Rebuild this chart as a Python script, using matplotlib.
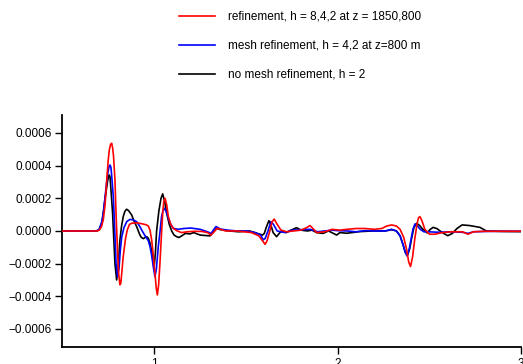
import matplotlib
matplotlib.use("Agg")
import matplotlib.pyplot as plt
from matplotlib.ticker import FuncFormatter

plt.rcParams['font.family'] = ['Liberation Sans', 'DejaVu Sans']

# amplitudes below are in units of 1e-4
SCALE = 1e-4

labels = [
    "refinement, h = 8,4,2 at z = 1850,800",
    "mesh refinement, h = 4,2 at z=800 m",
    "no mesh refinement, h = 2",
]
colors = ["#ff0000", "#0000ff", "#000000"]

red_t = [0.5, 0.69, 0.70, 0.712, 0.722, 0.732, 0.741, 0.749, 0.755, 0.762, 0.768, 0.773,
         0.778, 0.786, 0.792, 0.799, 0.806, 0.813, 0.818,
         0.822, 0.831, 0.843, 0.853, 0.865, 0.877, 0.90, 0.93, 0.955, 0.968, 0.977, 0.986,
         0.995, 1.004, 1.011, 1.017, 1.024, 1.031, 1.039, 1.046, 1.052, 1.059, 1.068, 1.077,
         1.09, 1.104, 1.125, 1.15, 1.18, 1.22, 1.26, 1.29, 1.31, 1.343, 1.39, 1.45, 1.53,
         1.57, 1.59, 1.604, 1.615, 1.63, 1.642, 1.654, 1.665, 1.69, 1.72, 1.76, 1.80, 1.83,
         1.849, 1.865, 1.885, 1.93, 1.97, 2.01, 2.05, 2.10, 2.15, 2.20, 2.24, 2.267, 2.294,
         2.32, 2.34, 2.36, 2.375, 2.387, 2.397, 2.408, 2.42, 2.432, 2.44, 2.448, 2.46, 2.475,
         2.50, 2.53, 2.57, 2.62, 2.68, 2.71, 2.74, 2.8, 2.9, 3.0]
red_amp = [0, 0, 0.05, 0.25, 0.67, 1.6, 3.1, 4.3, 4.95, 5.3, 5.37, 5.1,
           4.6, 3.1, 1.0, -0.96, -2.6, -3.3, -3.2,
           -2.7, -1.57, -0.5, 0.06, 0.4, 0.47, 0.5, 0.45, 0.38, 0.3, 0.05, -0.55,
           -1.5, -2.6, -3.5, -3.92, -3.3, -2.0, -0.3, 1.08, 1.8, 2.0, 1.6, 0.88,
           0.4, 0.16, 0.0, -0.1, -0.05, -0.02, -0.03, -0.1, -0.25, 0.16, 0.0, 0.0, -0.1,
           -0.3, -0.6, -0.82, -0.6, 0.0, 0.55, 0.73, 0.5, 0.06, -0.05, 0.0, 0.05, 0.2,
           0.33, 0.15, -0.1, -0.05, 0.1, 0.05, 0.1, 0.15, 0.15, 0.1, 0.15, 0.3, 0.37,
           0.3, 0.1, -0.4, -1.1, -1.9, -2.18, -1.6, -0.5, 0.4, 0.8, 0.88, 0.6, 0.1,
           -0.2, -0.2, -0.1, -0.05, -0.05, -0.2, -0.05, -0.02, -0.02, -0.02]

blue_t = [0.5, 0.685, 0.70, 0.715, 0.724, 0.732, 0.745, 0.753, 0.759, 0.764, 0.768, 0.777,
          0.785, 0.792, 0.80,
          0.808, 0.815, 0.823, 0.835, 0.85, 0.868, 0.885, 0.904, 0.92, 0.932, 0.945, 0.959,
          0.968, 0.977, 0.986, 0.995, 1.004, 1.012, 1.022, 1.031, 1.04, 1.048, 1.055, 1.065,
          1.077, 1.09, 1.104, 1.13, 1.16, 1.2, 1.25, 1.29, 1.31, 1.325, 1.337, 1.36, 1.40,
          1.45, 1.50, 1.55, 1.58, 1.594, 1.605, 1.62, 1.636, 1.65, 1.67, 1.69, 1.715, 1.75,
          1.80, 1.85, 1.89, 1.93, 1.97, 2.0, 2.05, 2.1, 2.15, 2.2, 2.26, 2.294, 2.32, 2.34,
          2.355, 2.368, 2.378, 2.39, 2.40, 2.41, 2.421, 2.435, 2.45, 2.47, 2.49, 2.55, 2.62,
          2.68, 2.71, 2.74, 2.8, 2.9, 3.0]
blue_amp = [0, 0, 0.1, 0.6, 1.2, 2.1, 3.4, 3.9, 4.04, 3.9, 3.4, 2.1,
            0.0, -2.0, -2.8,
            -2.3, -1.2, -0.35, 0.2, 0.57, 0.71, 0.68, 0.57, 0.3, 0.05, -0.2, -0.45,
            -0.6, -0.96, -1.5, -2.2, -2.8, -2.3, -0.96, -0.1, 0.88, 1.25, 1.39, 1.2,
            0.78, 0.4, 0.16, 0.1, 0.15, 0.18, 0.1, -0.05, -0.15, 0.1, 0.27, 0.12, 0.05,
            0.0, 0.0, -0.1, -0.25, -0.55, -0.45, 0.0, 0.57, 0.4, 0.0, -0.05, -0.1, 0.05,
            0.08, 0.1, -0.05, 0.0, 0.05, 0.02, 0.0, -0.05, 0.02, 0.0, 0.0, 0.1, 0.0, -0.3,
            -0.8, -1.3, -1.53, -1.1, -0.5, 0.1, 0.43, 0.3, 0.1, -0.05, -0.05, -0.08, -0.05,
            -0.08, -0.15, -0.05, -0.03, -0.02, -0.02]

black_t = [0.5, 0.685, 0.70, 0.715, 0.73, 0.745, 0.751, 0.755, 0.759, 0.763, 0.773, 0.78,
           0.786, 0.795,
           0.803, 0.813, 0.822, 0.831, 0.84, 0.849, 0.86, 0.877, 0.89, 0.904, 0.915, 0.922,
           0.93, 0.94, 0.95, 0.959, 0.968, 0.977, 0.987, 0.995, 1.0, 1.006, 1.013, 1.025,
           1.037, 1.046, 1.057, 1.068, 1.082, 1.095, 1.108, 1.122, 1.135, 1.15, 1.17, 1.195,
           1.215, 1.25, 1.28, 1.304, 1.32, 1.34, 1.36, 1.41, 1.46, 1.52, 1.576, 1.59, 1.60,
           1.61, 1.625, 1.635, 1.648, 1.667, 1.685, 1.70, 1.72, 1.745, 1.776, 1.80, 1.835,
           1.86, 1.885, 1.92, 1.95, 1.994, 2.012, 2.05, 2.12, 2.19, 2.26, 2.294, 2.32, 2.34,
           2.355, 2.368, 2.38, 2.392, 2.402, 2.415, 2.43, 2.445, 2.46, 2.487, 2.505, 2.52,
           2.54, 2.57, 2.60, 2.625, 2.65, 2.678, 2.72, 2.775, 2.81, 2.9, 3.0]
black_amp = [0, 0, 0.08, 0.5, 1.8, 3.0, 3.35, 3.43, 3.3, 2.7, 1.1, -0.6,
             -2.0, -3.0,
             -2.3, -0.55, 0.3, 0.88, 1.2, 1.33, 1.25, 0.98, 0.6, 0.27, -0.05, -0.25,
             -0.4, -0.47, -0.4, -0.35, -0.45, -0.75, -1.3, -2.0, -2.14, -1.4, 0.0, 1.2,
             2.0, 2.27, 1.8, 1.08, 0.4, 0.0, -0.25, -0.35, -0.4, -0.3, -0.15, -0.18,
             -0.1, -0.25, -0.28, -0.3, -0.1, 0.16, 0.08, 0.0, -0.05, 0.0, -0.2, -0.25, -0.15,
             0.2, 0.63, 0.4, -0.1, -0.35, -0.1, 0.0, -0.1, 0.05, 0.2, 0.05, 0.0,
             0.05, -0.1, -0.15, 0.0, -0.25, -0.1, -0.14, -0.04, 0.0, 0.0, 0.08, 0.0, -0.3,
             -0.8, -1.3, -1.5, -1.1, -0.5, 0.2, 0.47, 0.35, 0.15, -0.12, 0.1, 0.22,
             0.15, -0.1, -0.29, -0.15, 0.15, 0.37, 0.33, 0.22, 0.0, -0.03, -0.04]

series = [(red_t, red_amp), (blue_t, blue_amp), (black_t, black_amp)]

fig = plt.figure(figsize=(5.23, 3.64), dpi=100)
ax = fig.add_axes([0.1195, 0.047, 0.877, 0.637])

handles = []
for (t, a), c, lab, z in zip(series, colors, labels, [3, 2, 1]):
    line, = ax.plot(t, [v * SCALE for v in a], color=c, lw=1.2, label=lab, zorder=z,
                    solid_joinstyle="round")
    handles.append(line)

ax.set_xlim(0.5, 3.0)
ax.set_ylim(-0.00071, 0.00071)
ax.set_xticks([1, 2, 3])
ax.set_yticks([-0.0006, -0.0004, -0.0002, 0, 0.0002, 0.0004, 0.0006])
ax.yaxis.set_major_formatter(FuncFormatter(lambda v, p: f"{v:.4f}".replace("-", "\u2212")))

for s in ["top", "right"]:
    ax.spines[s].set_visible(False)
ax.spines["left"].set_linewidth(1.3)
ax.spines["bottom"].set_linewidth(1.3)
ax.tick_params(direction="out", length=5, width=1.0, labelsize=8.5, pad=3)

fig.legend(handles=handles, loc="upper left", bbox_to_anchor=(0.321, 0.999),
           frameon=False, fontsize=8.5, handlelength=3.05, handletextpad=1.15,
           labelspacing=1.44)

fig.savefig("out.png", dpi=100)
